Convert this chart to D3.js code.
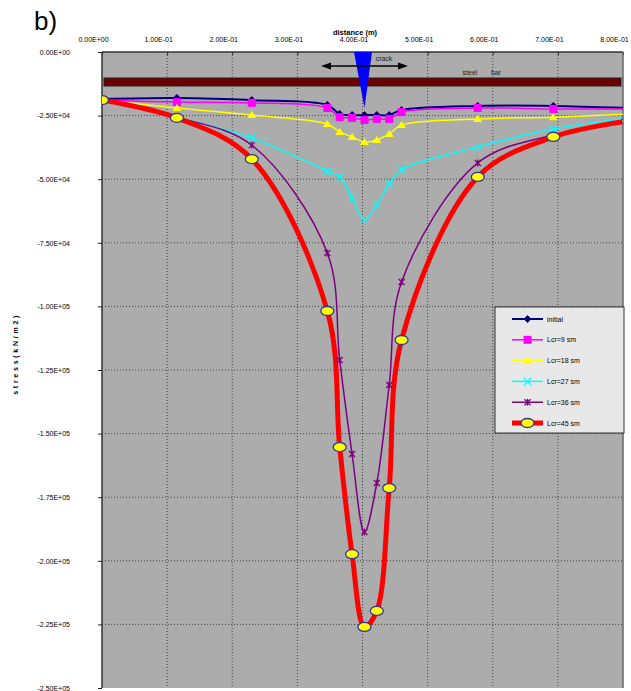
<!DOCTYPE html>
<html>
<head>
<meta charset="utf-8">
<script src="https://cdn.jsdelivr.net/npm/d3@7"></script>
<style>
  body { margin: 0; background: #fff; }
  text { font-family: "Liberation Sans", Arial, sans-serif; }
</style>
</head>
<body>
<div id="container"></div>
<script>
// distance along the bar (m)
var distance = [0, 0.115, 0.23, 0.346, 0.365, 0.384, 0.403, 0.422, 0.441, 0.46, 0.577, 0.693, 0.808];

// stress (kN/m2) for each case
var sInitial = [-18500, -18100, -18900, -20800, -24400, -24800, -24800, -24800, -24800, -22800, -21200, -21200, -22000];
var sLcr9    = [-18900, -19700, -20000, -22000, -25600, -25900, -26700, -26300, -26300, -23600, -22000, -22400, -22400];
var sLcr18   = [-18900, -22000, -24800, -28300, -31400, -33400, -35400, -34600, -32200, -28700, -26300, -25600, -24400];
var sLcr27   = [-18900, -25600, -33800, -46800, -49100, -57400, -66000, -60100, -51900, -46400, -37300, -30300, -25900];
var sLcr36   = [-18900, -25600, -36600, -79000, -121100, -158000, -188700, -169400, -130900, -90400, -43600, -32600, -27100];
var sLcr45   = [-18900, -25900, -42100, -101800, -155300, -197400, -226000, -219700, -171400, -113200, -49100, -33400, -27100];

var seriesNames = ['initial', 'Lcr=9 sm', 'Lcr=18 sm', 'Lcr=27 sm', 'Lcr=36 sm', 'Lcr=45 sm'];

var xTicks = [0, 0.1, 0.2, 0.3, 0.4, 0.5, 0.6, 0.7, 0.8];
var yTicks = [0, -25000, -50000, -75000, -100000, -125000, -150000, -175000, -200000, -225000, -250000];

var svg = d3.select('#container').append('svg').attr('width', 631).attr('height', 691);

var plot = { left: 102, right: 623, top: 52, bottom: 688 };

var x = d3.scaleLinear().domain([0, 0.8]).range([plot.left, plot.right]);
var y = d3.scaleLinear().domain([0, -250000]).range([plot.top, plot.bottom]);

function sci(v) {
  if (v === 0) return '0.00E+00';
  var s = Math.abs(v).toExponential(2).toUpperCase();
  var parts = s.split('E');
  var e = parseInt(parts[1], 10);
  var es = (e < 0 ? '-' : '+') + (Math.abs(e) < 10 ? '0' : '') + Math.abs(e);
  return (v < 0 ? '-' : '') + parts[0] + 'E' + es;
}

// plot background
svg.append('rect')
  .attr('x', plot.left).attr('y', plot.top)
  .attr('width', plot.right - plot.left).attr('height', plot.bottom - plot.top)
  .attr('fill', '#acacac');

svg.append('clipPath').attr('id', 'clip')
  .append('rect')
  .attr('x', plot.left).attr('y', plot.top)
  .attr('width', plot.right - plot.left).attr('height', plot.bottom - plot.top);

// grid
svg.append('g').selectAll('line').data(xTicks.slice(1, -1)).enter().append('line')
  .attr('x1', function(d) { return x(d); }).attr('x2', function(d) { return x(d); })
  .attr('y1', plot.top).attr('y2', plot.bottom)
  .attr('stroke', '#444').attr('stroke-width', 1).attr('stroke-dasharray', '1,2');
svg.append('g').selectAll('line').data(yTicks.slice(1, -1)).enter().append('line')
  .attr('x1', plot.left).attr('x2', plot.right)
  .attr('y1', function(d) { return y(d); }).attr('y2', function(d) { return y(d); })
  .attr('stroke', '#444').attr('stroke-width', 1).attr('stroke-dasharray', '1,2');

// axes
var xAxis = svg.append('g').attr('transform', 'translate(0,' + plot.top + ')')
  .call(d3.axisTop(x).tickValues(xTicks).tickSize(-3).tickPadding(10).tickFormat(sci));
xAxis.selectAll('text').attr('dx', -9).style('font-size', '7px').attr('fill', '#000');
xAxis.select('.domain').remove();
xAxis.selectAll('line').attr('stroke', '#222');

var yAxis = svg.append('g').attr('transform', 'translate(' + plot.left + ',0)')
  .call(d3.axisLeft(y).tickValues(yTicks).tickSize(4).tickPadding(28).tickFormat(sci));
yAxis.selectAll('text').style('font-size', '7px').attr('fill', '#000');
yAxis.select('.domain').remove();
yAxis.selectAll('line').attr('stroke', '#222');

// plot border
svg.append('line').attr('x1', plot.left).attr('x2', plot.right).attr('y1', plot.top).attr('y2', plot.top)
  .attr('stroke', '#333').attr('stroke-width', 1.5);
svg.append('line').attr('x1', plot.left).attr('x2', plot.left).attr('y1', plot.top).attr('y2', plot.bottom)
  .attr('stroke', '#333').attr('stroke-width', 1.5);
svg.append('line').attr('x1', plot.right).attr('x2', plot.right).attr('y1', plot.top).attr('y2', plot.bottom)
  .attr('stroke', '#666').attr('stroke-width', 1.5);

// steel bar
svg.append('rect').attr('x', 104).attr('y', 78).attr('width', 517).attr('height', 8)
  .attr('fill', '#6b0000').attr('stroke', '#222').attr('stroke-width', 1);
svg.append('text').attr('x', 470).attr('y', 75).attr('text-anchor', 'middle')
  .style('font-size', '7px').attr('fill', '#222').text('steel');
svg.append('text').attr('x', 496).attr('y', 75).attr('text-anchor', 'middle')
  .style('font-size', '7px').attr('fill', '#222').text('bar');

// crack
svg.append('path').attr('d', 'M354,52 L372,52 L364.5,108 Z').attr('fill', '#0000ff');
svg.append('line').attr('x1', 330).attr('x2', 399).attr('y1', 66).attr('y2', 66)
  .attr('stroke', '#000').attr('stroke-width', 1.5);
svg.append('path').attr('d', 'M321,66 L331,62.5 L331,69.5 Z').attr('fill', '#000');
svg.append('path').attr('d', 'M408,66 L398,62.5 L398,69.5 Z').attr('fill', '#000');
svg.append('text').attr('x', 384).attr('y', 61).attr('text-anchor', 'middle')
  .style('font-size', '7px').attr('fill', '#222').text('crack');

// titles
svg.append('text').attr('x', 34).attr('y', 30).style('font-size', '26px').attr('fill', '#000').text('b)');
svg.append('text').attr('x', 355).attr('y', 34.5).attr('text-anchor', 'middle')
  .style('font-size', '7.5px').style('font-weight', 'bold').attr('fill', '#000').text('distance (m)');
svg.append('text').attr('transform', 'translate(18,355) rotate(-90)').attr('text-anchor', 'middle')
  .style('font-size', '7px').style('font-weight', 'bold').style('letter-spacing', '0.4px').attr('fill', '#000')
  .text('s t r e s s   ( k N / m 2 )');

// series
var series = [
  { name: seriesNames[0], values: sInitial, color: '#000080', width: 2, marker: 'diamond' },
  { name: seriesNames[1], values: sLcr9, color: '#ff00ff', width: 1.5, marker: 'square' },
  { name: seriesNames[2], values: sLcr18, color: '#ffff00', width: 1.5, marker: 'triangle' },
  { name: seriesNames[3], values: sLcr27, color: '#00ffff', width: 1.5, marker: 'x' },
  { name: seriesNames[4], values: sLcr36, color: '#800080', width: 1.5, marker: 'star' },
  { name: seriesNames[5], values: sLcr45, color: '#ff0000', width: 5, marker: 'circle' }
];

var line = d3.line()
  .x(function(d) { return x(d[0]); })
  .y(function(d) { return y(d[1]); })
  .curve(d3.curveCatmullRom.alpha(0.5));

function drawMarker(g, type, color) {
  if (type === 'diamond') {
    g.append('path').attr('d', 'M0,-3.5 L3.5,0 L0,3.5 L-3.5,0 Z').attr('fill', color).attr('stroke', color);
  } else if (type === 'square') {
    g.append('rect').attr('x', -4).attr('y', -4).attr('width', 8).attr('height', 8).attr('fill', color);
  } else if (type === 'triangle') {
    g.append('path').attr('d', 'M0,-4 L4.5,3 L-4.5,3 Z').attr('fill', color);
  } else if (type === 'x') {
    g.append('path').attr('d', 'M-3.5,-3.5 L3.5,3.5 M-3.5,3.5 L3.5,-3.5').attr('stroke', color).attr('stroke-width', 1.3);
  } else if (type === 'star') {
    g.append('path').attr('d', 'M-3,-3 L3,3 M-3,3 L3,-3 M0,-3.5 L0,3.5').attr('stroke', color).attr('stroke-width', 1.3);
  } else if (type === 'circle') {
    g.append('ellipse').attr('rx', 6.5).attr('ry', 4.5).attr('fill', '#ffff00').attr('stroke', '#333399').attr('stroke-width', 1.3);
  }
}

var lines = svg.append('g').attr('clip-path', 'url(#clip)');
series.forEach(function(s) {
  var pts = distance.map(function(d, i) { return [d, s.values[i]]; });
  lines.append('path').datum(pts)
    .attr('fill', 'none').attr('stroke', s.color).attr('stroke-width', s.width)
    .attr('stroke-linejoin', 'round').attr('d', line);
});
series.forEach(function(s) {
  distance.forEach(function(d, i) {
    var m = lines.append('g').attr('transform', 'translate(' + x(d) + ',' + y(s.values[i]) + ')');
    drawMarker(m, s.marker, s.color);
  });
});

// legend
var legend = svg.append('g').attr('transform', 'translate(495,307)');
legend.append('rect').attr('width', 129).attr('height', 126)
  .attr('fill', '#e8e8e8').attr('stroke', '#333').attr('stroke-width', 1);
series.forEach(function(s, i) {
  var row = legend.append('g').attr('transform', 'translate(0,' + (12 + i * 20.8) + ')');
  row.append('line').attr('x1', 17).attr('x2', 48).attr('y1', 0).attr('y2', 0)
    .attr('stroke', s.color).attr('stroke-width', s.width);
  var m = row.append('g').attr('transform', 'translate(32.5,0)');
  drawMarker(m, s.marker, s.color);
  row.append('text').attr('x', 52).attr('y', 2.5).style('font-size', '7px').attr('fill', '#000').text(s.name);
});
</script>
</body>
</html>
